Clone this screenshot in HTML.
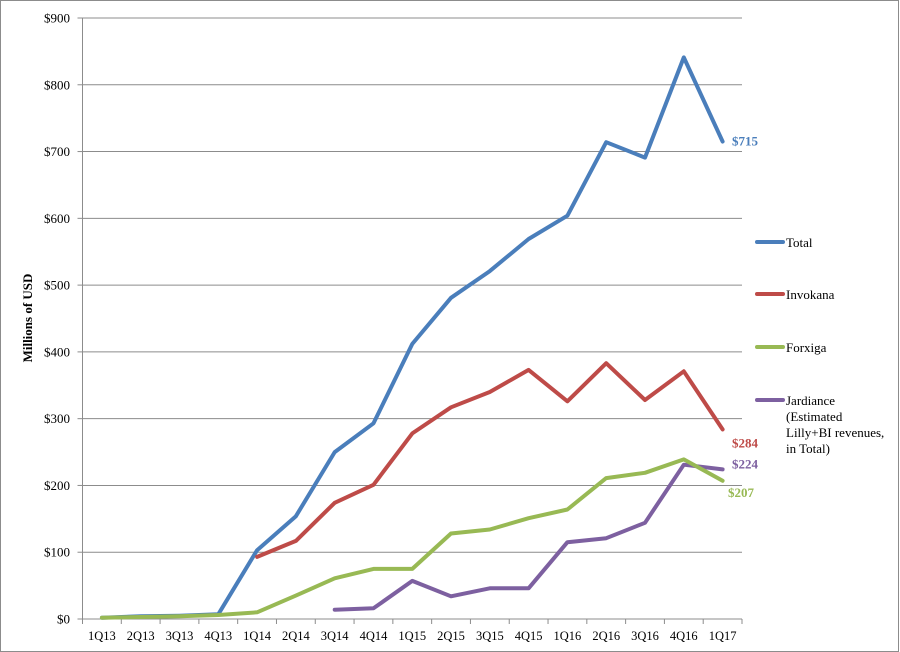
<!DOCTYPE html>
<html><head><meta charset="utf-8"><style>
html,body{margin:0;padding:0;background:#fff;}
svg{display:block;font-family:"Liberation Serif",serif;}
</style></head><body>
<svg id="chart" width="900" height="652" viewBox="0 0 900 652" xmlns="http://www.w3.org/2000/svg">
<rect x="0.5" y="0.5" width="898" height="651" fill="#fff" stroke="#8c8c8c"/>
<g id="grid"></g><g id="axes"></g><g id="series"></g><g id="labels"></g>
<text transform="translate(32,318) rotate(-90)" text-anchor="middle" font-size="13" font-weight="bold">Millions of USD</text>
<g id="legend"></g>
</svg>
<script>
const categories=["1Q13","2Q13","3Q13","4Q13","1Q14","2Q14","3Q14","4Q14","1Q15","2Q15","3Q15","4Q15","1Q16","2Q16","3Q16","4Q16","1Q17"];
const totalValues=[2,4,5,7,103,154,250,293,412,481,521,569,604,714,691,841,715];
const invokanaValues=[null,null,null,null,93,117,174,201,278,317,340,373,326,383,328,371,284];
const forxigaValues=[2,3,4,6,10,35,61,75,75,128,134,151,164,211,219,239,207];
const jardianceValues=[null,null,null,null,null,null,14,16,57,34,46,46,115,121,144,231,224];
const yTicks=[0,100,200,300,400,500,600,700,800,900];
const seriesNames=["Total","Invokana","Forxiga","Jardiance"];
const endLabels=["$715","$284","$207","$224"];
const NS="http://www.w3.org/2000/svg";
const left=82.5,right=742,y0=619,y900=18;
const bw=(right-left)/categories.length;
const xs=i=>left+bw*(i+0.5);
const ys=v=>y0-(v/900)*(y0-y900);
function mk(tag,attrs,parent){const e=document.createElementNS(NS,tag);for(const k in attrs)e.setAttribute(k,attrs[k]);parent.appendChild(e);return e;}
const grid=document.getElementById('grid'),axes=document.getElementById('axes'),ser=document.getElementById('series'),lab=document.getElementById('labels'),leg=document.getElementById('legend');
yTicks.forEach(t=>{
  const y=ys(t);
  if(t>0){const g=mk('line',{x1:left,x2:right,y1:y,y2:y,stroke:'#8c8c8c','stroke-width':1},grid);
  
  }
  const tk=mk('line',{x1:left-5,x2:left,y1:y,y2:y,stroke:'#8c8c8c'},axes);
  
  
  const tx=mk('text',{x:70,y:y+4.5,'text-anchor':'end','font-size':13},axes);
  tx.textContent='$'+t;
  
  
});
const ya=mk('line',{x1:left,x2:left,y1:y900,y2:y0,stroke:'#8c8c8c'},axes);


const xa=mk('line',{x1:left,x2:right,y1:y0,y2:y0,stroke:'#8c8c8c'},axes);


for(let i=0;i<=categories.length;i++){
  const x=left+bw*i;
  const t=mk('line',{x1:x,x2:x,y1:y0,y2:y0+5,stroke:'#8c8c8c'},axes);
  
  
}
categories.forEach((c,i)=>{
  const t=mk('text',{x:xs(i),y:640,'text-anchor':'middle','font-size':12.5},axes);
  t.textContent=c;
  
  
});
const colors=['#4a7ebb','#be4b48','#98b954','#7d60a0'];
const data=[totalValues,invokanaValues,forxigaValues,jardianceValues];
// draw order: forxiga first at bottom near start so total visible? Reference shows green over blue at start
const order=[0,1,3,2];
order.forEach(s=>{
  const vals=data[s];let d='';let started=false;
  vals.forEach((v,i)=>{if(v==null){started=false;return;}d+=(started?'L':'M')+xs(i).toFixed(1)+','+ys(v).toFixed(1);started=true;});
  const p=mk('path',{d:d,fill:'none',stroke:colors[s],'stroke-width':4,'stroke-linejoin':'round','stroke-linecap':'round'},ser);
  
  
});
const labelY=[totalValues[16],invokanaValues[16],forxigaValues[16],jardianceValues[16]];
const dy=[0,14,12,-5];
endLabels.forEach((l,s)=>{
  const t=mk('text',{x:s==2?728:732,y:ys(labelY[s])+4+dy[s],fill:colors[s],'font-size':13,'font-weight':'bold'},lab);
  t.textContent=l;
  
  
});
const legY=[242,294,347,400];
const legText=[["Total"],["Invokana"],["Forxiga"],["Jardiance","(Estimated","Lilly+BI revenues,","in Total)"]];
legText.forEach((lines,s)=>{
  const l=mk('line',{x1:757,x2:783,y1:legY[s],y2:legY[s],stroke:colors[s],'stroke-width':4,'stroke-linecap':'round'},leg);
  
  
  lines.forEach((ln,k)=>{
    const t=mk('text',{x:786,y:legY[s]+5+k*16,'font-size':13},leg);
    t.textContent=ln;
    
    
  });
});
</script>
</body></html>
